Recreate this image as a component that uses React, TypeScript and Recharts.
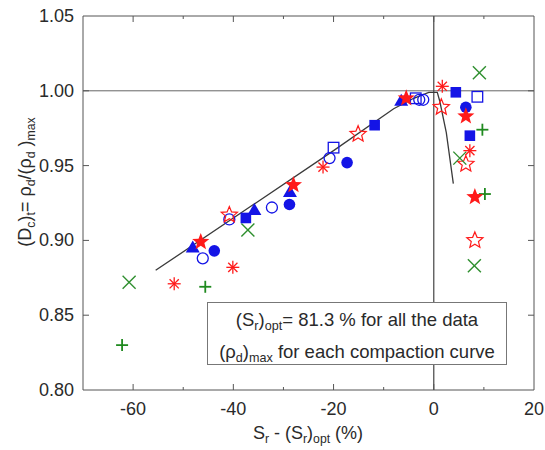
import { FC } from "react";
import {
  ScatterChart,
  Scatter,
  XAxis,
  YAxis,
  ReferenceLine,
} from "recharts";

// point pairs [Sr - (Sr)opt, (Dc)t]
const blueTriangle = [[-48.1, 0.895], [-35.8, 0.92], [-28.7, 0.932], [-6.5, 0.993]];
const blueDot = [[-43.8, 0.893], [-28.8, 0.924], [-17.3, 0.952], [6.4, 0.989]];
const blueRing = [[-46.1, 0.888], [-40.8, 0.914], [-32.3, 0.922], [-20.8, 0.955], [-2.9, 0.994], [-2.1, 0.994]];
const blueSquare = [[-37.5, 0.915], [-11.8, 0.977], [4.4, 0.999], [7.2, 0.97]];
const blueOpenSquare = [[-20, 0.962], [-3.6, 0.995], [8.7, 0.996]];
const redStar = [[-46.5, 0.899], [-28, 0.937], [-5.5, 0.995], [6.4, 0.983], [8.2, 0.929]];
const redOpenStar = [[-40.8, 0.917], [-15.1, 0.971], [1.5, 0.989], [6.4, 0.951], [8.2, 0.9]];
const redAsterisk = [[-51.8, 0.871], [-40.1, 0.882], [-22.1, 0.949], [1.7, 1.003], [7.2, 0.96]];
const greenCross = [[-60.8, 0.872], [-37.1, 0.907], [5.2, 0.955], [9.1, 1.012], [8.1, 0.883]];
const greenPlus = [[-62.2, 0.83], [-45.6, 0.869], [9.7, 0.974], [10.2, 0.931]];

// trend line drawn by hand in the original
const trend = [[-55.5, 0.88], [-20, 0.96], [-8, 0.988], [-4, 0.995], [-1, 0.999], [0.7, 0.999], [1.2, 0.993], [2.5, 0.972], [3.9, 0.938]];

const xTicks = [-70, -60, -50, -40, -30, -20, -10, 0, 10, 20];
const yTicks = [0.8, 0.85, 0.9, 0.95, 1.0, 1.05];

const toPts = (arr: number[][]) => arr.map(([x, y]) => ({ x, y }));

const BLUE = "#1414e6";
const RED = "#ff1a1a";
const GREEN = "#2f8f2f";
const AXIS = "#555";
const TEXT = "#2a2a2a";
const FONT = "'Liberation Sans', Arial, sans-serif";

const starPath = (cx: number, cy: number, R: number, r: number) => {
  const pts: string[] = [];
  for (let i = 0; i < 10; i++) {
    const a = -Math.PI / 2 + (i * Math.PI) / 5;
    const rad = i % 2 === 0 ? R : r;
    pts.push(`${cx + rad * Math.cos(a)},${cy + rad * Math.sin(a)}`);
  }
  return pts.join(" ");
};

const Triangle = ({ cx, cy }: any) => (
  <polygon points={`${cx},${cy - 7.5} ${cx - 7},${cy + 4.5} ${cx + 7},${cy + 4.5}`} fill={BLUE} />
);
const Dot = ({ cx, cy }: any) => <circle cx={cx} cy={cy} r={5.8} fill={BLUE} />;
const Ring = ({ cx, cy }: any) => (
  <circle cx={cx} cy={cy} r={5.5} fill="none" stroke={BLUE} strokeWidth={1.3} />
);
const Square = ({ cx, cy }: any) => <rect x={cx - 5.3} y={cy - 5.3} width={10.6} height={10.6} fill={BLUE} />;
const OpenSquare = ({ cx, cy }: any) => (
  <rect x={cx - 5.3} y={cy - 5.3} width={10.6} height={10.6} fill="none" stroke={BLUE} strokeWidth={1.3} />
);
const Star = ({ cx, cy }: any) => <polygon points={starPath(cx, cy, 9, 3.8)} fill={RED} />;
const OpenStar = ({ cx, cy }: any) => (
  <polygon points={starPath(cx, cy, 8.5, 3.8)} fill="none" stroke={RED} strokeWidth={1.2} />
);
const Asterisk = ({ cx, cy }: any) => (
  <g stroke={RED} strokeWidth={1.3}>
    {[0, 45, 90, 135].map((d) => {
      const a = (d * Math.PI) / 180;
      const dx = 6.5 * Math.cos(a);
      const dy = 6.5 * Math.sin(a);
      return <line key={d} x1={cx - dx} y1={cy - dy} x2={cx + dx} y2={cy + dy} />;
    })}
  </g>
);
const Cross = ({ cx, cy }: any) => (
  <g stroke={GREEN} strokeWidth={1.4}>
    <line x1={cx - 6.5} y1={cy - 6.5} x2={cx + 6.5} y2={cy + 6.5} />
    <line x1={cx - 6.5} y1={cy + 6.5} x2={cx + 6.5} y2={cy - 6.5} />
  </g>
);
const Plus = ({ cx, cy }: any) => (
  <g stroke="#1f8a1f" strokeWidth={1.8}>
    <line x1={cx - 6} y1={cy} x2={cx + 6} y2={cy} />
    <line x1={cx} y1={cy - 6} x2={cx} y2={cy + 6} />
  </g>
);
const Nothing = () => <g />;

const BottomTick = ({ x, y, payload }: any) => {
  const v = payload.value;
  const major = v % 20 === 0;
  return (
    <g>
      {v > -70 && v < 20 && (
        <line x1={x} x2={x} y1={y} y2={y - (major ? 6 : 3)} stroke={AXIS} />
      )}
      {major && (
        <text x={x} y={y + 25} textAnchor="middle" fontSize={18} fill={TEXT} fontFamily={FONT}>
          {v}
        </text>
      )}
    </g>
  );
};
const TopTick = ({ x, y, payload }: any) => {
  const v = payload.value;
  if (v <= -70 || v >= 20) return <g />;
  return <line x1={x} x2={x} y1={y} y2={y + (v % 20 === 0 ? 6 : 3)} stroke={AXIS} />;
};
const LeftTick = ({ x, y, payload }: any) => {
  const v = payload.value;
  return (
    <g>
      {v > 0.81 && v < 1.04 && <line x1={x} x2={x + 6} y1={y} y2={y} stroke={AXIS} />}
      <text x={x - 9} y={y + 6} textAnchor="end" fontSize={18} fill={TEXT} fontFamily={FONT}>
        {v.toFixed(2)}
      </text>
    </g>
  );
};
const RightTick = ({ x, y, payload }: any) => {
  const v = payload.value;
  if (v <= 0.81 || v >= 1.04) return <g />;
  return <line x1={x} x2={x - 6} y1={y} y2={y} stroke={AXIS} />;
};

const Sub: FC<{ children: any }> = ({ children }) => (
  <span style={{ fontSize: "0.68em", position: "relative", top: "0.35em" }}>{children}</span>
);

const series = [
  { data: blueRing, shape: Ring },
  { data: blueOpenSquare, shape: OpenSquare },
  { data: redOpenStar, shape: OpenStar },
  { data: greenCross, shape: Cross },
  { data: greenPlus, shape: Plus },
  { data: redAsterisk, shape: Asterisk },
  { data: blueDot, shape: Dot },
  { data: blueSquare, shape: Square },
  { data: blueTriangle, shape: Triangle },
  { data: redStar, shape: Star },
];

export default function App() {
  return (
    <div
      style={{
        position: "absolute",
        left: 0,
        top: 0,
        width: 545,
        height: 450,
        background: "#fff",
        fontFamily: FONT,
        color: TEXT,
      }}
    >
      <ScatterChart width={545} height={450} margin={{ top: 15, right: 10, bottom: 0, left: 0 }}>
        <XAxis
          dataKey="x"
          type="number"
          domain={[-70, 20]}
          allowDataOverflow
          ticks={xTicks}
          interval={0}
          height={60}
          tickSize={0}
          tickMargin={0}
          tickLine={false}
          tick={BottomTick}
          axisLine={{ stroke: AXIS }}
        />
        <XAxis
          xAxisId="top"
          orientation="top"
          dataKey="x"
          type="number"
          domain={[-70, 20]}
          allowDataOverflow
          ticks={xTicks}
          interval={0}
          height={1}
          tickSize={0}
          tickMargin={0}
          tickLine={false}
          tick={TopTick}
          axisLine={{ stroke: AXIS }}
        />
        <YAxis
          dataKey="y"
          type="number"
          domain={[0.8, 1.05]}
          allowDataOverflow
          ticks={yTicks}
          interval={0}
          width={83}
          tickSize={0}
          tickMargin={0}
          tickLine={false}
          tick={LeftTick}
          axisLine={{ stroke: AXIS }}
        />
        <YAxis
          yAxisId="right"
          orientation="right"
          dataKey="y"
          type="number"
          domain={[0.8, 1.05]}
          allowDataOverflow
          ticks={yTicks}
          interval={0}
          width={1}
          tickSize={0}
          tickMargin={0}
          tickLine={false}
          tick={RightTick}
          axisLine={{ stroke: AXIS }}
        />
        <ReferenceLine y={1} stroke="#666" strokeWidth={1} />
        <ReferenceLine x={0} stroke="#444" strokeWidth={1.2} />
        {/* invisible series so the mirrored frame axes get drawn */}
        <Scatter
          xAxisId="top"
          yAxisId="right"
          data={toPts(trend)}
          shape={Nothing}
          isAnimationActive={false}
        />
        <Scatter
          data={toPts(trend)}
          line={{ stroke: "#3a3a3a", strokeWidth: 1.3 }}
          shape={Nothing}
          isAnimationActive={false}
        />
        {series.map((s, i) => (
          <Scatter key={i} data={toPts(s.data)} shape={s.shape} isAnimationActive={false} />
        ))}
      </ScatterChart>

      <div
        style={{
          position: "absolute",
          left: 207,
          top: 302,
          width: 300,
          height: 63,
          border: "1px solid #777",
          background: "#fff",
          textAlign: "center",
          fontSize: 18.5,
          lineHeight: "30px",
          paddingTop: 2,
          boxSizing: "border-box",
          whiteSpace: "nowrap",
        }}
      >
        <div>
          (S<Sub>r</Sub>)<Sub>opt</Sub>= 81.3 % for all the data
        </div>
        <div>
          (ρ<Sub>d</Sub>)<Sub>max</Sub> for each compaction curve
        </div>
      </div>

      <div
        style={{
          position: "absolute",
          left: 308,
          top: 433,
          transform: "translate(-50%, -50%)",
          fontSize: 18,
          whiteSpace: "nowrap",
        }}
      >
        S<Sub>r</Sub> - (S<Sub>r</Sub>)<Sub>opt</Sub> (%)
      </div>

      <div
        style={{
          position: "absolute",
          left: 25,
          top: 182,
          transform: "translate(-50%, -50%) rotate(-90deg)",
          fontSize: 18,
          whiteSpace: "nowrap",
        }}
      >
        (D<Sub>c</Sub>)<Sub>t</Sub>= ρ<Sub>d</Sub>/(ρ<Sub>d</Sub> )<Sub>max</Sub>
      </div>
    </div>
  );
}
